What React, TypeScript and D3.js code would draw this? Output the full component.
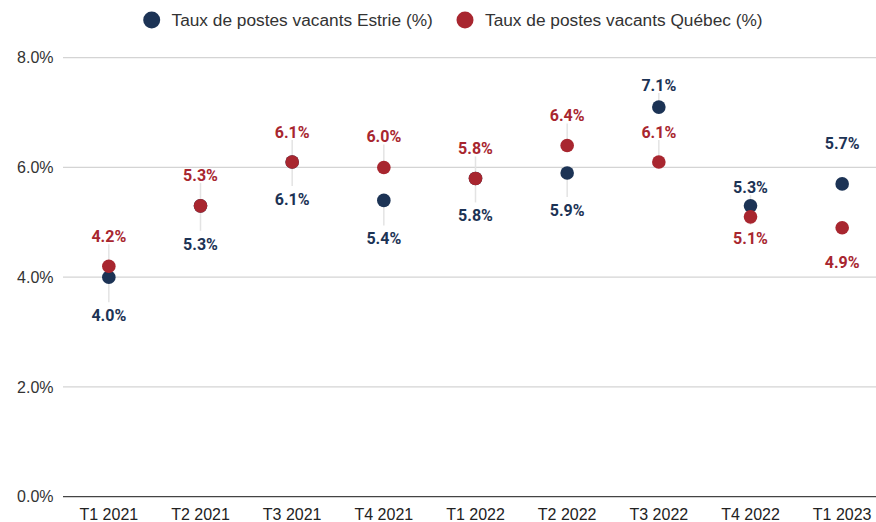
import React from "react";
import * as d3 from "d3";

const categories = ["T1 2021", "T2 2021", "T3 2021", "T4 2021", "T1 2022", "T2 2022", "T3 2022", "T4 2022", "T1 2023"];
const estrie = [4.0, 5.3, 6.1, 5.4, 5.8, 5.9, 7.1, 5.3, 5.7];
const quebec = [4.2, 5.3, 6.1, 6.0, 5.8, 6.4, 6.1, 5.1, 4.9];
const yTicks = [0, 2, 4, 6, 8];
const seriesNames = ["Taux de postes vacants Estrie (%)", "Taux de postes vacants Québec (%)"];

// label placement (pixel offsets of label centre from its dot)
const estrieLabelDy = [38, 38, 37, 38, 37, 37, -22, -19, -41];
const quebecLabelDy = [-30, -31, -30, -31, -30, -30, -30, 21, 34];
const showLeader = [true, true, true, true, true, true, true, true, false];

const W = 876;
const H = 522;
const BLUE = "#1c3355";
const RED = "#a8262f";
const AXIS_FONT = "'Liberation Sans', Arial, sans-serif";
const LABEL_FONT = "Roboto, 'Noto Sans', sans-serif";

export default function App() {
  const x = d3.scalePoint<string>().domain(categories).range([63, 888]).padding(0.5);
  const y = d3.scaleLinear().domain([0, 8]).range([496.7, 57.7]);
  const fmt = d3.format(".1f");

  const series = [
    { name: seriesNames[0], values: estrie, dy: estrieLabelDy, color: BLUE },
    { name: seriesNames[1], values: quebec, dy: quebecLabelDy, color: RED },
  ];

  return (
    <svg width={W} height={H} style={{ position: "absolute", left: 0, top: 0, background: "#fff" }}>
      {/* legend */}
      <g fontFamily={AXIS_FONT} fontSize={17.3} fill="#333">
        <circle cx={151.7} cy={20} r={8.5} fill={BLUE} />
        <text x={171.5} y={26}>{seriesNames[0]}</text>
        <circle cx={465} cy={20} r={8.5} fill={RED} />
        <text x={485} y={26}>{seriesNames[1]}</text>
      </g>

      {/* grid + y axis */}
      <g fontFamily={AXIS_FONT} fontSize={16} fill="#333">
        {yTicks.map((t) => (
          <g key={t}>
            {t !== 0 && (
              <line x1={63} x2={876} y1={y(t)} y2={y(t)} stroke="#d4d4d4" strokeWidth={1.2} />
            )}
            <text x={53.5} y={y(t)} dy="0.35em" textAnchor="end">
              {fmt(t) + "%"}
            </text>
          </g>
        ))}
        <line x1={63} x2={876} y1={y(0)} y2={y(0)} stroke="#444" strokeWidth={1.3} />
      </g>

      {/* x axis labels */}
      <g fontFamily={AXIS_FONT} fontSize={16} fill="#222" textAnchor="middle">
        {categories.map((c) => (
          <text key={c} x={x(c)} y={519.5}>
            {c}
          </text>
        ))}
      </g>

      {/* leader lines */}
      <g stroke="#e3e3e3" strokeWidth={1.5}>
        {series.map((s) =>
          s.values.map((v, i) => {
            if (!showLeader[i]) return null;
            const cy = y(v);
            const ly = cy + s.dy[i];
            const edge = s.dy[i] < 0 ? ly + 8 : ly - 13;
            return <line key={s.name + i} x1={x(categories[i])} x2={x(categories[i])} y1={cy} y2={edge} />;
          })
        )}
      </g>

      {/* dots */}
      {series.map((s) => (
        <g key={s.name} fill={s.color}>
          {s.values.map((v, i) => (
            <circle key={i} cx={x(categories[i])} cy={y(v)} r={6.8} />
          ))}
        </g>
      ))}

      {/* value labels */}
      {series.map((s) => (
        <g key={s.name + "l"} fill={s.color} fontFamily={LABEL_FONT} fontWeight={700} fontSize={16} textAnchor="middle">
          {s.values.map((v, i) => (
            <text key={i} x={x(categories[i])} y={y(v) + s.dy[i]} dy="0.36em">
              {fmt(v) + "%"}
            </text>
          ))}
        </g>
      ))}
    </svg>
  );
}
